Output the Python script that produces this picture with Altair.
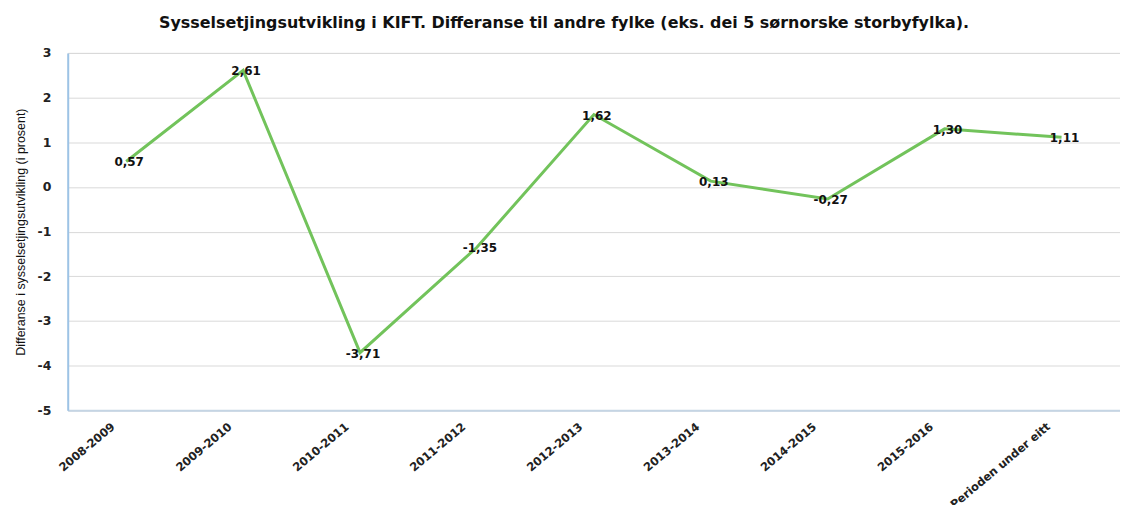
import altair as alt
import pandas as pd

categories = ["2008-2009", "2009-2010", "2010-2011", "2011-2012", "2012-2013",
              "2013-2014", "2014-2015", "2015-2016", "Perioden under eitt"]
values = [0.57, 2.61, -3.71, -1.35, 1.62, 0.13, -0.27, 1.30, 1.11]
labels = ["0,57", "2,61", "-3,71", "-1,35", "1,62", "0,13", "-0,27", "1,30", "1,11"]
y_ticks = [3, 2, 1, 0, -1, -2, -3, -4, -5]

df = pd.DataFrame({"periode": categories, "verdi": values, "etikett": labels})

x = alt.X("periode:N", sort=categories, title=None,
          scale=alt.Scale(paddingOuter=0.5),
          axis=alt.Axis(labelAngle=-40, labelAlign="right", labelBaseline="middle",
                        labelFont="DejaVu Sans", labelFontWeight="bold", labelFontSize=11.5,
                        labelColor="#222222", labelPadding=15, labelOffset=-13, ticks=False,
                        domainColor="#c5d5e4", domainWidth=2, grid=False))
y = alt.Y("verdi:Q", title="Differanse i sysselsetjingsutvikling (i prosent)",
          scale=alt.Scale(domain=[-5, 3], nice=False),
          axis=alt.Axis(values=y_ticks, labelExpr="'' + datum.value",
                        labelFont="DejaVu Sans", labelFontWeight="bold",
                        labelFontSize=12.5, labelColor="#222222", labelPadding=17,
                        ticks=False, domainColor="#9dc3e6", domainWidth=2,
                        gridColor="#d9d9d9", gridWidth=1,
                        titleFont="Liberation Sans", titleFontSize=12.5,
                        titleFontWeight="normal", titleColor="#111111", titlePadding=10))

line = alt.Chart(df).mark_line(color="#72c35b", strokeWidth=3).encode(x=x, y=y)
text = alt.Chart(df).mark_text(font="DejaVu Sans", fontWeight="bold", fontSize=12,
                               color="#111111", dx=3, dy=1).encode(
    x=alt.X("periode:N", sort=categories), y="verdi:Q", text="etikett:N")

chart = (line + text).properties(
    width=1057, height=359,
    title=alt.TitleParams(
        "Sysselsetjingsutvikling  i KIFT. Differanse til andre fylke (eks. dei 5 sørnorske storbyfylka).",
        font="DejaVu Sans", fontSize=16, fontWeight="bold", color="#111111",
        anchor="middle", dx=-30, offset=16),
    autosize=alt.AutoSizeParams(type="none"),
    padding={"left": 60, "top": 44, "right": 0, "bottom": 94},
).configure_view(stroke=None).configure(background="white")

chart.save("out.html", embed_options={"renderer": "svg", "actions": False})
